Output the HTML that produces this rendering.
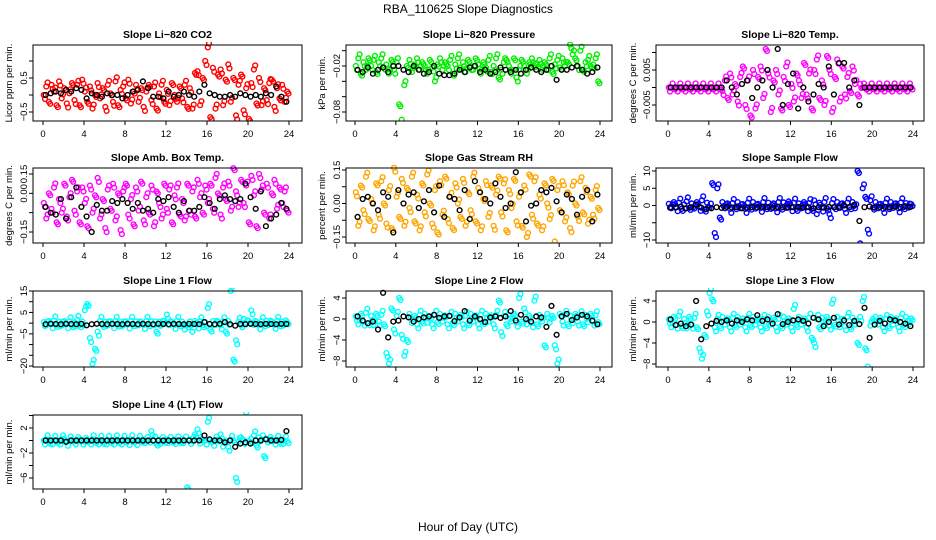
<!DOCTYPE html>
<html><head><meta charset="utf-8">
<style>
html,body{margin:0;padding:0;background:#fff;}
svg{display:block;font-family:"Liberation Sans",Arial,sans-serif;}
</style></head>
<body>
<svg id="chart" width="936" height="540" viewBox="0 0 936 540">
<text x="468" y="13" text-anchor="middle" font-size="12">RBA_110625  Slope Diagnostics</text>
<text x="468" y="531" text-anchor="middle" font-size="12">Hour of Day (UTC)</text>
</svg>
<script>
const xTicks = [0,4,8,12,16,20,24];

const co2Values = [0.0,0.25,-0.2,0.3,0.1,-0.3,0.4,-0.1,0.2,-0.25,0.05,0.35,
-0.15,0.3,-0.3,0.45,0.1,-0.2,0.25,-0.4,0.0,0.35,-0.1,0.2,
-0.35,0.3,0.05,-0.2,0.4,-0.3,0.15,0.25,-0.1,0.45,-0.25,0.1,
0.3,-0.2,0.2,-0.35,0.1,0.3,-0.15,0.25,-0.4,0.05,0.3,-0.2,
0.15,-0.3,0.35,0.0,-0.2,0.25,-0.1,0.3,-0.35,0.2,-0.4,0.65,
0.7,-0.3,0.5,1.0,1.4,-0.65,0.8,-0.4,0.6,0.75,-0.3,0.45,
0.9,-0.2,0.5,-0.6,0.3,0.6,-0.45,0.2,-0.7,0.35,0.75,-0.25,
0.5,-0.3,0.2,-0.15,0.35,0.45,-0.35,0.2,-0.1,0.3,-0.2,0.1];
const co2Black = [0,0.05,0.1,0.05,0.15,0.1,0.2,0.15,-0.1,0.05,0.0,-0.05,
0.05,0.0,0.0,-0.1,0.0,0.1,0.15,0.4,0.2,-0.05,-0.05,-0.1,
0.1,-0.05,0.0,0.1,0.0,-0.05,0.1,0.3,0.05,0.0,-0.05,-0.05,
0.0,-0.05,0.05,0.0,-0.05,0.0,-0.05,0.05,0.0,0.25,-0.05,-0.2];

const presValues = [-0.02,-0.01,-0.03,-0.015,-0.025,-0.01,-0.02,-0.012,-0.028,-0.015,-0.01,-0.022,
-0.018,-0.03,-0.012,-0.025,-0.015,-0.07,-0.09,-0.045,-0.02,-0.012,-0.028,-0.018,
-0.01,-0.025,-0.015,-0.02,-0.03,-0.012,-0.022,-0.04,-0.018,-0.01,-0.025,-0.015,
-0.02,-0.012,-0.03,-0.018,-0.01,-0.022,-0.015,-0.028,-0.012,-0.02,-0.025,-0.01,
-0.018,-0.03,-0.015,-0.022,-0.012,-0.028,-0.02,-0.01,-0.035,-0.025,-0.015,-0.012,
-0.02,-0.03,-0.01,-0.035,-0.025,-0.012,-0.02,-0.03,-0.015,-0.01,-0.022,-0.018,
-0.012,-0.025,-0.015,-0.02,-0.01,-0.028,-0.018,-0.012,-0.022,-0.01,-0.02,-0.015,
0.008,-0.005,-0.01,-0.02,0.0,-0.025,-0.015,-0.012,-0.02,-0.018,-0.01,-0.04];
const presBlack = [-0.025,-0.028,-0.022,-0.03,-0.025,-0.022,-0.028,-0.02,-0.02,-0.025,-0.028,-0.02,
-0.025,-0.03,-0.028,-0.02,-0.03,-0.032,-0.032,-0.03,-0.025,-0.028,-0.022,-0.02,
-0.028,-0.025,-0.03,-0.028,-0.022,-0.025,-0.028,-0.025,-0.03,-0.025,-0.022,-0.025,
-0.028,-0.025,-0.02,-0.038,-0.025,-0.025,-0.022,-0.02,-0.025,-0.03,-0.028,-0.022];

const tempValues = [0,0,0,0,0,0,0,0,0,0,0,0,0,0,0,0,0,0,0,0,
0.0,-0.001,0.002,-0.003,0.004,-0.002,0.001,-0.004,0.003,0.006,-0.005,0.002,-0.008,0.005,-0.006,
0.003,0.006,-0.003,0.011,0.004,-0.007,0.002,0.005,-0.002,-0.006,0.003,0.006,-0.005,0.001,-0.004,
0.004,0.002,-0.003,0.007,-0.002,0.004,-0.006,0.005,0.008,-0.003,0.002,-0.005,0.009,0.005,-0.007,
0.003,0.008,-0.004,0.006,-0.002,0.003,-0.001,0.006,0.001,-0.002,0.001,0.0,
0,0,0,0,0,0,0,0,0,0,0,0,0,0,0,0,0,0,0];
const tempBlack = [0,0,0,0,0,0,0,0,0,0,0,
0.002,0.0,-0.002,0.001,0.002,-0.003,0.0,0.002,0.005,0.0,0.011,-0.005,0.001,0.004,-0.006,0.0,
-0.004,-0.002,0.001,0.0,0.006,-0.002,0.007,0.007,0.0,0.002,-0.005,
0,0,0,0,0,0,0,0,0,0];

const ambValues = [0.0,-0.08,0.05,-0.03,0.08,-0.1,0.02,-0.05,0.1,-0.07,0.03,0.12,
-0.04,0.06,-0.1,0.08,0.0,-0.12,0.09,-0.05,0.04,0.13,-0.08,0.02,
-0.13,0.07,-0.03,0.1,-0.09,0.05,-0.14,0.06,0.1,-0.06,0.02,-0.11,
0.08,-0.04,0.11,-0.09,0.03,-0.05,0.09,-0.12,0.06,0.0,-0.08,0.1,
-0.03,0.07,-0.1,0.04,0.08,-0.06,0.02,-0.09,0.1,-0.04,0.06,-0.07,
0.12,0.03,-0.05,0.09,0.0,0.1,-0.03,0.13,0.05,-0.06,0.08,0.02,
0.11,-0.04,0.18,0.06,-0.02,0.12,0.0,0.09,-0.1,0.14,0.04,-0.12,
0.15,0.07,-0.05,0.1,-0.08,0.05,0.12,-0.03,0.08,0.0,0.06,-0.04];
const ambBlack = [-0.02,-0.05,-0.06,0.02,-0.08,0.03,0.08,-0.02,-0.07,-0.15,-0.01,-0.04,
-0.04,0.01,0.0,0.02,0.0,-0.03,0.0,-0.04,-0.03,-0.05,0.02,0.01,
0.03,-0.02,-0.05,0.01,-0.04,-0.04,-0.02,0.03,0.0,-0.03,0.02,0.04,
0.02,0.01,0.02,0.1,0.03,-0.03,0.06,-0.12,-0.08,-0.06,0.0,-0.03];

const rhValues = [0.05,-0.1,0.08,-0.03,0.12,-0.07,0.02,-0.12,0.09,-0.05,0.1,0.0,
-0.09,0.06,-0.11,0.16,0.03,-0.06,0.11,-0.1,0.07,-0.02,0.12,-0.08,
0.04,-0.12,0.09,-0.04,0.13,0.0,-0.09,0.06,-0.13,0.1,-0.05,0.12,
-0.07,0.03,-0.11,0.09,0.0,-0.06,0.11,-0.1,0.05,-0.03,0.12,-0.08,
0.07,-0.12,0.02,0.1,-0.06,0.08,-0.1,0.04,0.12,-0.04,0.09,-0.12,
0.06,-0.02,0.11,-0.08,0.03,-0.1,0.08,-0.15,0.13,-0.05,0.1,-0.09,
0.04,-0.12,0.09,0.0,-0.07,0.11,-0.17,0.06,-0.03,0.1,-0.08,0.05,
-0.11,0.08,0.0,-0.06,0.1,-0.04,0.07,-0.09,0.03,-0.05,0.06,-0.02];
const rhBlack = [-0.06,0.02,0.03,0.0,-0.03,0.05,0.03,-0.13,0.06,0.0,0.04,0.05,
-0.02,0.01,0.06,-0.04,0.08,-0.06,0.03,0.02,-0.03,0.06,-0.07,0.1,
0.05,0.02,0.0,0.09,0.03,-0.02,0.0,0.14,0.05,-0.08,-0.01,0.0,
0.06,0.05,0.07,0.01,-0.04,0.04,0.02,-0.05,0.03,0.06,-0.08,0.04];

const sampleValues = [0.5,-0.8,1.0,-0.5,0.8,-1.0,0.3,1.2,-0.7,0.6,-0.9,1.0,
-0.4,1.5,-1.2,0.8,-0.6,6.5,-8.0,5.0,-3.5,1.0,-0.8,0.6,
-1.0,0.7,-0.5,1.0,-0.8,0.4,-1.0,0.8,-0.6,1.0,-0.9,0.5,
-0.7,1.0,-0.5,0.8,-1.0,0.6,-0.8,1.0,-0.6,0.9,-0.7,1.2,
-0.5,0.8,-1.0,0.6,-0.8,1.0,-0.5,0.7,-1.0,1.5,-2.5,0.8,
-0.6,1.0,-0.8,-2.5,0.7,-0.5,1.0,-0.7,0.6,-1.0,0.8,-0.5,
1.0,-0.8,10.0,-11.0,5.0,2.5,-7.0,1.5,-0.6,1.0,-0.8,0.5,
-1.0,0.8,-0.5,1.0,-0.7,0.6,-0.8,0.9,-0.5,0.7,-0.6,0.4];
const sampleBlack = [-0.5,-0.6,-0.3,-0.8,-0.5,0.2,-0.6,-1.0,-0.8,-0.5,-0.7,-0.4,
-0.6,-0.5,-0.8,-0.6,-0.5,-0.6,-0.4,-0.5,-0.7,-0.4,-0.5,-0.6,
-0.5,-0.4,-0.6,-0.5,-0.8,-0.5,-0.6,-0.4,-0.5,-0.6,0.0,-0.5,
0.2,-4.5,-0.5,-0.3,-0.6,-0.5,-0.4,-0.6,-0.3,-0.5,-0.2,-0.4];

const line1Values = [0.5,-1,1,-0.5,1.2,-0.8,0.6,-1.2,1,-0.5,0.8,-1,
0.4,1.5,-1,0.8,6,9,-7,-19,-12,-4,1,-0.8,
0.6,-1,0.8,-0.5,1,-0.7,0.5,-1,0.8,-0.6,1,-0.5,
0.7,-1,0.6,-0.8,1,-0.5,0.8,-1,-4,0.6,-0.8,1,
4,-1,0.6,-0.8,1,-0.5,0.7,-3,-1,0.8,-4,1,
-0.6,0.8,-1,0.5,7,-3,1,-0.8,0.6,-1,0.8,-4,
1,15,-17,-8,0.6,-1,2,-0.5,1,6,-0.8,0.6,
-1,0.8,-0.5,1,-0.7,0.6,-0.8,1,-0.5,0.7,-0.6,0.4];
const line1Black = [-0.5,-0.3,-0.4,-0.5,-0.3,-0.4,-0.5,-0.3,-1,-0.5,-0.3,-0.4,
-0.5,-0.3,-0.4,-0.5,-0.3,-0.4,-0.5,-0.3,-0.4,-0.5,-0.3,-0.4,
-0.5,-0.3,-0.4,-0.5,-0.3,-0.4,-0.5,0.5,-0.4,-0.5,-0.3,0.5,
-0.5,-1.2,-0.4,-0.5,-0.3,-0.4,-0.5,-0.3,-0.4,-0.5,-0.3,-0.4];

const line2Values = [0.5,-1,1,-0.5,1.2,-0.8,0.6,-1.2,1,-0.5,0.8,-1,
-6.5,-8.5,2,-2,0.6,4,-3,-7,-4,1,-0.8,0.6,
-1,0.8,-0.5,1,-0.7,0.5,-1,0.8,-0.6,1,-0.5,0.7,
-1,0.6,-0.8,1,-0.5,0.8,-1,0.6,-0.8,1,-0.5,0.7,
-1,0.8,-0.6,1,-0.5,0.7,-1,0.8,3.5,-2.5,0.6,-1,
0.8,-0.5,1,-0.7,4,-0.5,2,-1,0.6,-0.8,3.5,-1,
0.8,-0.5,-5,1,-0.7,0.6,-5,-8.5,1,-0.5,0.8,-1,
0.6,-0.8,1,-0.5,0.7,-1,0.8,-0.6,1,-0.5,0.7,-0.6];
const line2Black = [0.5,-0.3,-0.8,-0.5,-2,5,-3.5,-0.5,-0.3,0.5,0.3,-0.5,
0.0,0.3,0.5,0.8,0.2,0.5,0.6,-0.4,0.3,1.5,-0.3,0.5,
0.0,-0.6,0.3,0.5,0.2,0.5,1.5,-0.3,0.8,0.0,-0.5,0.5,
0.3,-1.5,2.5,-3,0.5,1,-0.2,0.3,0.8,0.5,-0.3,-1];

const line3Values = [0.5,-1,1,-0.5,1.2,-0.8,0.6,-1.2,1,-0.5,0.8,-1,
-5,-7,-2.5,2,5.5,4.3,-1,0.6,-0.8,1,-0.5,0.7,
-1,0.8,-0.6,1,-0.5,0.7,-1,0.8,-0.6,1,-0.5,0.7,
-1,0.6,-0.8,1,-0.5,0.8,-1,0.6,-0.8,1,-0.5,0.7,
-1,2.5,-0.6,1,-0.5,0.7,-1,0.8,-3,-4,0.6,-1,
0.8,-0.5,1,-0.7,3.5,-0.5,1,-1,0.6,-0.8,1,-1,
0.8,-0.5,-4,1,4,-5,-8.5,-0.7,0.6,1,-0.5,0.8,
-1,0.6,-0.8,1,-0.5,0.7,-1,0.8,-0.6,1,-0.5,0.7];
const line3Black = [0.5,-0.6,-0.3,-0.8,-0.5,4,-3.3,-0.8,-0.3,0.2,0.0,0.3,
-0.3,0.3,0.0,0.5,0.3,1.3,0.2,0.5,-0.3,1.5,-0.4,0.0,
0.3,0.5,0.2,-0.3,0.8,0.5,-0.8,0.0,0.8,-0.5,0.3,-0.6,
0.2,-0.4,2.7,-3,-0.5,0.2,-0.3,0.5,0.3,0.0,-0.3,-0.8];

const line4Values = [0,0.2,-0.2,0,0.1,-0.1,0,0.2,0.3,-0.2,0,0.1,
0,-0.1,0.2,0,-0.2,0.1,0,0.2,-0.1,0,0.1,-0.2,
0,0.1,-0.1,0,0.2,-0.1,0,0.1,0,-0.1,0.2,0,
-0.1,0.1,0,0.2,-0.1,0,1.5,0,-0.5,0.1,-0.1,0,
0.2,-0.1,0,0.1,0,-0.1,0.2,0,-7.5,0.1,-0.1,1,
1.8,-0.5,0.2,0,3,0.1,-0.2,0,0.2,1,-1,0,
-1,0.1,0,-6,-0.2,0.5,0.1,4.5,-0.1,0.3,0.8,-0.8,
0.5,0.2,-2.5,0.3,-0.1,0.2,0,0.1,-0.2,0.1,0,-0.1];
const line4Black = [0,0,0,0,-0.2,0,0,0,0,0,0,0,
0,0,0,0,0,0,0,0,0,0,0,0,
0,0,0,0,0,0,0,0.8,0.2,0,0,-0.3,
0,-1,-0.5,-0.3,-0.5,0,0,0.2,0,0,0.1,1.5];

const panels = [
 {title:"Slope Li\u2212820 CO2", yl:"Licor ppm per min.", col:0,row:0, v0:-0.5,p0:112,v1:0.5,p1:78, ticks:[-0.5,0,0.5,1], labels:["\u22120.5","","0.5",""], color:"#ff0000", data:co2Values, black:co2Black},
 {title:"Slope Li\u2212820 Pressure", yl:"kPa per min.", col:1,row:0, v0:-0.08,p0:112,v1:-0.02,p1:66, ticks:[-0.08,-0.06,-0.04,-0.02,0], labels:["\u22120.08","","","\u22120.02",""], color:"#00ee00", data:presValues, black:presBlack},
 {title:"Slope Li\u2212820 Temp.", yl:"degrees C per min.", col:2,row:0, v0:-0.005,p0:105,v1:0.005,p1:70, ticks:[-0.005,0,0.005,0.01], labels:["\u22120.005","","0.005",""], color:"#ff00ff", data:tempValues, black:tempBlack},
 {title:"Slope Amb. Box Temp.", yl:"degrees C per min.", col:0,row:1, v0:-0.15,p0:232,v1:0.15,p1:174, ticks:[-0.15,-0.05,0.05,0.15], labels:["\u22120.15","","0.00","0.15"], color:"#ff00ff", data:ambValues, black:ambBlack},
 {title:"Slope Gas Stream RH", yl:"percent per min.", col:1,row:1, v0:-0.15,p0:237,v1:0.15,p1:170, ticks:[-0.15,-0.075,0,0.075,0.15], labels:["\u22120.15","","0.00","","0.15"], color:"#ffa500", data:rhValues, black:rhBlack},
 {title:"Slope Sample Flow", yl:"ml/min per min.", col:2,row:1, v0:-10,p0:240,v1:10,p1:171, ticks:[-10,-5,0,5,10], labels:["\u221210","","0","5","10"], color:"#0000ff", data:sampleValues, black:sampleBlack},
 {title:"Slope Line 1 Flow", yl:"ml/min per min.", col:0,row:2, v0:-20,p0:366,v1:15,p1:291, ticks:[-20,-15,-10,-5,0,5,10,15], labels:["\u221220","","","\u22125","","5","","15"], color:"#00ffff", data:line1Values, black:line1Black},
 {title:"Slope Line 2 Flow", yl:"ml/min per min.", col:1,row:2, v0:-8,p0:361,v1:4,p1:298, ticks:[-8,-4,0,4], labels:["\u22128","\u22124","0","4"], color:"#00ffff", data:line2Values, black:line2Black},
 {title:"Slope Line 3 Flow", yl:"ml/min per min.", col:2,row:2, v0:-8,p0:364,v1:4,p1:301, ticks:[-8,-4,0,4], labels:["\u22128","\u22124","0","4"], color:"#00ffff", data:line3Values, black:line3Black},
 {title:"Slope Line 4 (LT) Flow", yl:"ml/min per min.", col:0,row:3, v0:-6,p0:478,v1:2,p1:428, ticks:[-6,-4,-2,0,2,4], labels:["\u22126","","\u22122","","2",""], color:"#00ffff", data:line4Values, black:line4Black}
];

const cols = [{l:33,r:302,x0:43,x24:289,yl:12},{l:346,r:612,x0:355,x24:600,yl:325},{l:656,r:924,x0:668,x24:913,yl:636}];
const rows = [{t:45,b:121},{t:168,b:243},{t:291,b:367},{t:415,b:489}];

const svg = document.getElementById('chart');
const NS = 'http://www.w3.org/2000/svg';
function mk(tag, attrs, parent){
  const e = document.createElementNS(NS, tag);
  for (const k in attrs) e.setAttribute(k, attrs[k]);
  (parent||svg).appendChild(e);
  return e;
}

panels.forEach((p, pi) => {
  const c = cols[p.col], r = rows[p.row];
  const g = mk('g', {});
  
  
  const xs = h => c.x0 + h/24*(c.x24 - c.x0);
  const ys = v => p.p0 + (v - p.v0)/(p.v1 - p.v0)*(p.p1 - p.p0);
  const clip = mk('clipPath', {id:'clip'+pi}, g);
  mk('rect', {x:c.l, y:r.t-3, width:c.r-c.l, height:r.b-r.t+3}, clip);

  const t = mk('text', {x:(c.l+c.r)/2, y:r.t-7, 'text-anchor':'middle', 'font-size':10.5, 'font-weight':'bold'}, g);
  t.textContent = p.title;
  
  

  const ylab = mk('text', {x:c.yl, y:(r.t+r.b)/2, 'text-anchor':'middle', 'font-size':9.5, transform:'rotate(-90 '+c.yl+' '+((r.t+r.b)/2)+')'}, g);
  ylab.textContent = p.yl;
  
  

  const pts = mk('g', {'clip-path':'url(#clip'+pi+')', fill:'none', 'stroke-width':1.4}, g);
  
  
  p.data.forEach((v, i) => {
    const h = (i + 0.3) * 24 / p.data.length;
    const ci = mk('circle', {cx:xs(h).toFixed(1), cy:ys(v).toFixed(1), r:2.4, stroke:p.color}, pts);
    
    
  });
  p.data.forEach((v, i) => {
    const h = (i + 0.8) * 24 / p.data.length;
    const ci = mk('circle', {cx:xs(h).toFixed(1), cy:(ys(v) + (i%3===0?4:(i%3===1?-4:2))).toFixed(1), r:2.4, stroke:p.color}, pts);
    
    
  });
  p.black.forEach((v, i) => {
    const h = (i + 0.5) * 24 / p.black.length;
    const ci = mk('circle', {cx:xs(h).toFixed(1), cy:ys(v).toFixed(1), r:2.4, stroke:'#000'}, pts);
    
    
  });

  const box = mk('rect', {x:c.l, y:r.t, width:c.r-c.l, height:r.b-r.t, fill:'none', stroke:'#000', 'stroke-width':1}, g);
  
  

  xTicks.forEach(h => {
    const x = xs(h);
    mk('line', {x1:x, x2:x, y1:r.b, y2:r.b+4, stroke:'#000'}, g);
    const tl = mk('text', {x:x, y:r.b+16, 'text-anchor':'middle', 'font-size':9.5}, g);
    tl.textContent = h;
    
    
  });
  p.ticks.forEach((v, i) => {
    const y = ys(v);
    if (y < r.t - 1 || y > r.b + 1) return;
    mk('line', {x1:c.l-4, x2:c.l, y1:y, y2:y, stroke:'#000'}, g);
    if (p.labels[i]) {
      const lx = c.l - 6;
      const tl = mk('text', {x:lx, y:y, 'text-anchor':'middle', 'font-size':9.5, transform:'rotate(-90 '+lx+' '+y+')'}, g);
      tl.textContent = p.labels[i];
      
      
    }
  });
});
</script>
</body></html>
